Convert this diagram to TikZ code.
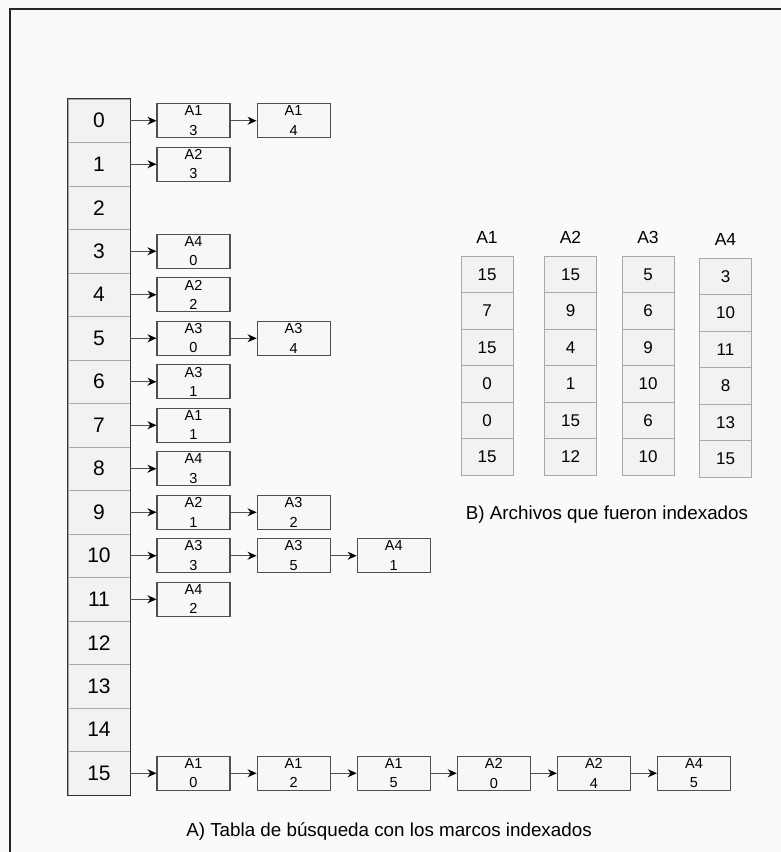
\documentclass[tikz,border=0pt]{standalone}
\usepackage{fontspec}
\setmainfont{Liberation Sans}
\usetikzlibrary{positioning, arrows.meta}

\definecolor{paper}{HTML}{FAFAFA}
\definecolor{cellfill}{HTML}{F2F2F2}
\definecolor{cellline}{HTML}{A8A8A8}
\definecolor{boxline}{HTML}{505050}

\begin{document}
\begin{tikzpicture}[
    x=1pt, y=-1pt,
    node distance=26pt,
    every node/.style={align=center, inner sep=0pt},
    %% one bucket of the lookup table
    slot/.style={
        draw=cellline, fill=cellfill, line width=0.9pt,
        minimum width=62pt, minimum height=43.5pt,
        font=\fontsize{21}{24}\selectfont
    },
    %% outline round the whole table
    tableedge/.style={draw=black!80, line width=1.6pt},
    %% indexed frame: file over frame number
    marco/.style={
        draw=boxline, fill=cellfill!60, line width=1.1pt,
        minimum width=73pt, minimum height=34pt,
        font=\fontsize{14.5}{19.5}\selectfont
    },
    %% one cell of an indexed file
    fcell/.style={
        draw=cellline, fill=cellfill, line width=0.9pt,
        minimum width=52pt, minimum height=36.5pt,
        font=\fontsize{17}{20}\selectfont
    },
    fhead/.style={font=\fontsize{17.5}{20}\selectfont},
    %% chain pointer
    link/.style={-{Stealth[length=9pt, width=8pt, black]}, draw=boxline, line width=1pt},
    caption/.style={font=\fontsize{18.8}{22}\selectfont}
]

\fill[paper] (0,0) rectangle (781,852);
\useasboundingbox (0,0) rectangle (781,852);
\draw[line width=1.2pt, black!85] (10,852) -- (10,9) -- (781,9);

%%-------------------------------------------------------------- lookup table
\foreach \i in {0,...,15}
    \node[slot] (c\i) at (99, 120.75+43.5*\i) {\i};
\draw[tableedge] (c0.north west) rectangle (c15.south east);

%%-------------------------------------------------------------- indexed frames
\node[marco, right=of c0]    (m0a)  {A1\\3};
\node[marco, right=of m0a]   (m0b)  {A1\\4};

\node[marco, right=of c1]    (m1a)  {A2\\3};

\node[marco, right=of c3]    (m3a)  {A4\\0};

\node[marco, right=of c4]    (m4a)  {A2\\2};

\node[marco, right=of c5]    (m5a)  {A3\\0};
\node[marco, right=of m5a]   (m5b)  {A3\\4};

\node[marco, right=of c6]    (m6a)  {A3\\1};

\node[marco, right=of c7]    (m7a)  {A1\\1};

\node[marco, right=of c8]    (m8a)  {A4\\3};

\node[marco, right=of c9]    (m9a)  {A2\\1};
\node[marco, right=of m9a]   (m9b)  {A3\\2};

\node[marco, right=of c10]   (m10a) {A3\\3};
\node[marco, right=of m10a]  (m10b) {A3\\5};
\node[marco, right=of m10b]  (m10c) {A4\\1};

\node[marco, right=of c11]   (m11a) {A4\\2};

\node[marco, right=of c15]   (m15a) {A1\\0};
\node[marco, right=of m15a]  (m15b) {A1\\2};
\node[marco, right=of m15b]  (m15c) {A1\\5};
\node[marco, right=of m15c]  (m15d) {A2\\0};
\node[marco, right=of m15d]  (m15e) {A2\\4};
\node[marco, right=of m15e]  (m15f) {A4\\5};

%%-------------------------------------------------------------- pointers
\draw[link] (c0) -- (m0a);   \draw[link] (m0a) -- (m0b);
\draw[link] (c1) -- (m1a);
\draw[link] (c3) -- (m3a);
\draw[link] (c4) -- (m4a);
\draw[link] (c5) -- (m5a);   \draw[link] (m5a) -- (m5b);
\draw[link] (c6) -- (m6a);
\draw[link] (c7) -- (m7a);
\draw[link] (c8) -- (m8a);
\draw[link] (c9) -- (m9a);   \draw[link] (m9a) -- (m9b);
\draw[link] (c10) -- (m10a); \draw[link] (m10a) -- (m10b); \draw[link] (m10b) -- (m10c);
\draw[link] (c11) -- (m11a);
\draw[link] (c15) -- (m15a); \draw[link] (m15a) -- (m15b); \draw[link] (m15b) -- (m15c);
\draw[link] (m15c) -- (m15d); \draw[link] (m15d) -- (m15e); \draw[link] (m15e) -- (m15f);

%%-------------------------------------------------------------- indexed files
\foreach \v [count=\k] in {15,7,15,0,0,15}
    \node[fcell] (A1-\k) at (487, {274.25+36.5*(\k-1)}) {\v};
\foreach \v [count=\k] in {15,9,4,1,15,12}
    \node[fcell] (A2-\k) at (570.5, {274.25+36.5*(\k-1)}) {\v};
\foreach \v [count=\k] in {5,6,9,10,6,10}
    \node[fcell] (A3-\k) at (648, {274.25+36.5*(\k-1)}) {\v};
\foreach \v [count=\k] in {3,10,11,8,13,15}
    \node[fcell] (A4-\k) at (725.5, {276.25+36.5*(\k-1)}) {\v};

\node[fhead, above=12pt of A1-1] (hA1) {A1};
\node[fhead, above=12pt of A2-1] (hA2) {A2};
\node[fhead, above=12pt of A3-1] (hA3) {A3};
\node[fhead, above=12pt of A4-1] (hA4) {A4};

%%-------------------------------------------------------------- captions
\node[caption] (capB) at (607, 515) {B) Archivos que fueron indexados};
\node[caption] (capA) at (389, 832) {A) Tabla de búsqueda con los marcos indexados};

\end{tikzpicture}
\end{document}
